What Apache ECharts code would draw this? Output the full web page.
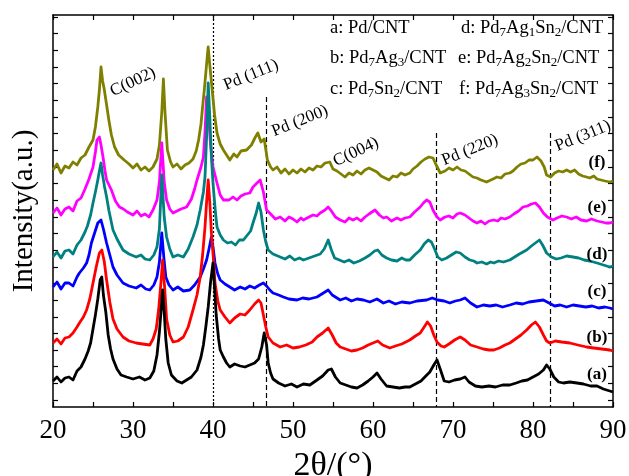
<!DOCTYPE html>
<html>
<head>
<meta charset="utf-8">
<script src="https://cdn.jsdelivr.net/npm/echarts@6/dist/echarts.min.js"></script>
<style>
  html, body { margin: 0; padding: 0; background: #fff; }
  #chart { width: 629px; height: 476px; }
</style>
</head>
<body>
<div id="chart"></div>
<script>
// 2theta (deg) vs stacked intensity (a.u.)
const curveA = [[20,26],[20.5,30],[21,25],[21.5,29],[22,30],[22.5,27],[23,36],[23.5,40],[24,48],[24.4,56],[24.7,64],[25,78],[25.3,92],[25.6,108],[25.9,127],[26.1,130],[26.3,112],[26.6,95],[26.9,72],[27.2,58],[27.5,48],[28,38],[28.5,32],[29.2,30],[30,28],[30.8,30],[31.5,27],[32.1,29],[32.6,36],[33,52],[33.3,75],[33.5,95],[33.7,117],[33.9,95],[34.1,68],[34.4,44],[34.8,32],[35.5,26],[36.1,24],[36.7,27],[37.3,30],[38,37],[38.5,50],[38.8,62],[39.1,80],[39.4,100],[39.7,125],[40,144],[40.2,118],[40.4,92],[40.7,68],[40.9,57],[41.3,50],[41.7,44],[42.1,40],[42.7,43],[43.4,41],[44,40],[44.6,42],[45.2,44],[45.7,48],[46.1,60],[46.4,74],[46.7,62],[46.9,44],[47.2,34],[47.5,28],[48.2,24],[49,21],[49.8,23],[50.5,20],[51.3,23],[52.1,22],[53,27],[53.7,31],[54.4,37],[54.8,38],[55.3,30],[55.9,24],[56.6,22],[57.3,20],[58,19],[58.7,22],[59.4,26],[60,30],[60.5,34],[61,28],[61.7,21],[62.5,20],[63.3,19],[64,20],[64.6,20],[65.3,23],[66,26],[66.6,31],[67.1,35],[67.6,42],[68,47],[68.4,38],[68.9,26],[69.5,25],[70.2,27],[70.9,28],[71.5,30],[72,25],[72.8,21],[73.6,20],[74.5,21],[75.3,20],[76.2,22],[77.1,22],[77.9,24],[78.6,26],[79.3,27],[80,30],[80.7,33],[81.3,37],[81.7,42],[82.1,38],[82.6,30],[83.2,25],[83.8,24],[84.6,25],[85.5,24],[86.3,23],[87.2,21],[88,21],[88.8,18],[89.6,16],[90,15]];
const curveB = [[20,64],[20.5,68],[21,63],[21.5,69],[22,70],[22.5,74],[23,80],[23.3,84],[23.8,90],[24.2,97],[24.6,108],[25,124],[25.4,140],[25.8,154],[26.1,157],[26.4,146],[26.7,127],[27.1,105],[27.5,88],[28,78],[28.75,70],[29.5,66],[30.4,64],[31.2,63],[32.1,62],[32.5,68],[32.9,78],[33.2,97],[33.5,125],[33.7,147],[33.95,120],[34.2,88],[34.6,72],[35,65],[35.6,66],[36.3,70],[36.9,80],[37.5,97],[38,112],[38.4,130],[38.7,152],[39,180],[39.2,205],[39.4,227],[39.6,205],[39.8,174],[40.05,148],[40.25,124],[40.6,106],[40.9,97],[41.5,90],[42.1,84],[42.7,89],[43.4,93],[44,92],[44.6,97],[45.2,103],[45.7,107],[46,104],[46.3,92],[46.6,80],[46.9,70],[47.5,64],[48.4,60],[49.2,62],[50,59],[50.8,60],[51.6,62],[52.4,65],[53,70],[53.7,74],[54.4,79],[54.9,72],[55.4,64],[55.9,60],[56.6,58],[57.3,56],[58,57],[58.7,59],[59.4,62],[60,64],[60.6,66],[61.2,62],[62.1,59],[62.8,61],[63.6,63],[64.6,67],[65.3,71],[65.9,74],[66.4,80],[66.8,85],[67.2,81],[67.6,72],[68,65],[68.5,61],[68.9,60],[69.5,63],[70.2,67],[70.9,70],[71.5,67],[72.2,62],[73,60],[73.8,58],[74.5,57],[75.1,57],[75.8,59],[76.5,62],[77.1,64],[77.8,68],[78.5,72],[79.2,77],[79.8,82],[80.3,85],[80.8,80],[81.3,72],[81.7,66],[82.1,64],[82.8,66],[83.6,65],[84.6,64],[85.6,62],[86.7,60],[87.6,59],[88.6,58],[89.6,57],[90,56]];
const curveC = [[20,120],[20.5,125],[21,118],[21.5,124],[22,124],[22.5,121],[23,130],[23.3,134],[23.8,139],[24.2,144],[24.5,152],[24.8,164],[25.2,174],[25.6,184],[26,187],[26.3,178],[26.7,164],[27.1,152],[27.5,140],[28,132],[28.75,124],[29.5,121],[30.4,119],[31,122],[31.6,118],[32.1,117],[32.6,122],[33,130],[33.3,145],[33.6,174],[33.85,150],[34.1,130],[34.5,122],[35,117],[35.6,120],[36.3,116],[37.1,117],[37.7,122],[38.4,130],[38.8,138],[39.2,147],[39.5,158],[39.8,170],[40,160],[40.25,144],[40.6,133],[40.9,127],[41.5,123],[42.1,120],[42.7,117],[43.4,120],[44,118],[44.6,121],[45.2,119],[45.8,122],[46.3,124],[46.7,121],[47.1,117],[47.5,114],[48.2,112],[48.8,110],[49.5,108],[50.5,107],[51.2,109],[52,108],[53,110],[53.8,114],[54.4,117],[54.9,112],[55.9,107],[56.6,109],[57.3,106],[58,108],[58.8,107],[59.6,105],[60.5,108],[61.3,104],[62,106],[62.8,103],[63.6,105],[64.6,104],[65.5,106],[66.7,107],[67.4,109],[68.1,107],[68.9,106],[69.6,104],[70.3,106],[70.9,107],[71.5,109],[72.2,104],[73,100],[73.8,102],[74.6,101],[75.4,102],[76.2,100],[77.1,102],[77.9,104],[78.7,103],[79.5,105],[80.4,106],[81.3,107],[82,104],[82.7,101],[83.4,102],[84.2,100],[85,102],[85.8,101],[86.6,100],[87.4,101],[88.2,99],[89,100],[89.6,99],[90,98]];
const curveD = [[20,150],[20.5,155],[21,149],[21.5,156],[22,157],[22.5,153],[23,162],[23.5,167],[24,175],[24.3,181],[24.7,192],[25,204],[25.3,215],[25.6,227],[25.8,236],[26,244],[26.2,232],[26.45,220],[26.7,210],[27,196],[27.5,177],[28,168],[28.75,157],[29.5,153],[30.4,150],[31,152],[31.5,148],[32.1,147],[32.6,152],[33,160],[33.3,178],[33.6,232],[33.9,190],[34.2,170],[34.6,158],[35,150],[35.6,152],[36.3,150],[36.9,158],[37.5,170],[38,182],[38.4,197],[38.8,215],[39,230],[39.2,270],[39.4,324],[39.6,290],[39.8,250],[40,224],[40.3,195],[40.5,180],[40.9,172],[41.3,167],[41.8,164],[42.3,165],[42.8,162],[43.3,167],[43.8,167],[44.3,172],[44.7,176],[45,184],[45.4,194],[45.7,204],[46,195],[46.3,177],[46.6,165],[46.9,157],[47.5,153],[48.4,150],[49,148],[49.6,151],[50.2,147],[50.8,149],[51.3,147],[52,149],[52.7,151],[53.4,153],[53.9,158],[54.4,167],[54.8,157],[55.2,149],[55.8,147],[56.4,145],[57,147],[57.6,144],[58.3,146],[59,149],[59.6,152],[60.2,156],[60.6,157],[61.1,152],[61.7,149],[62.3,147],[63,146],[63.6,149],[64.1,147],[64.6,147],[65.2,152],[65.9,157],[66.4,163],[66.9,167],[67.3,165],[67.7,158],[68.1,150],[68.6,147],[69.2,149],[69.8,152],[70.4,155],[70.9,154],[71.5,150],[72.1,147],[72.6,146],[73,144],[73.6,145],[74.2,143],[74.7,145],[75.1,144],[75.7,146],[76.3,145],[77.1,147],[77.7,150],[78.3,153],[79.2,157],[79.8,161],[80.3,164],[80.8,167],[81.2,162],[81.7,154],[82.3,150],[82.9,148],[83.5,149],[84.2,151],[85,150],[85.7,149],[86.4,147],[87.1,146],[88,144],[88.8,142],[89.6,140],[90,141]];
const curveE = [[20,194],[20.5,199],[21,192],[21.5,198],[22,200],[22.5,196],[23,206],[23.5,209],[24,218],[24.5,228],[25,240],[25.3,255],[25.5,267],[25.8,270],[26,262],[26.25,250],[26.5,236],[26.7,227],[27,222],[27.3,217],[27.8,206],[28.3,200],[28.8,198],[29.3,195],[30,192],[30.5,196],[31,191],[31.5,193],[32,190],[32.5,197],[33,207],[33.3,225],[33.6,264],[33.9,225],[34.2,207],[34.6,198],[35,194],[35.5,196],[36,198],[36.7,200],[37.3,208],[37.7,218],[38,227],[38.5,240],[38.8,250],[39,275],[39.2,310],[39.4,295],[39.7,262],[40,240],[40.5,224],[40.9,212],[41.3,207],[42,207],[42.5,210],[43,207],[43.5,211],[44,213],[44.6,214],[45,220],[45.5,224],[45.9,227],[46.3,215],[46.7,197],[47.2,193],[47.8,188],[48.4,190],[49,186],[49.5,190],[50,188],[50.5,185],[51,189],[51.3,187],[52,190],[52.5,192],[53,191],[53.4,194],[54,197],[54.4,200],[54.8,196],[55.3,190],[55.9,187],[56.5,185],[57,189],[57.5,187],[58,189],[58.5,186],[59,190],[59.5,193],[60.25,197],[60.8,192],[61.3,189],[61.7,190],[62.3,186],[63,189],[63.5,187],[64,189],[64.6,190],[65.2,195],[65.9,200],[66.3,204],[66.7,207],[67.1,205],[67.5,197],[68,190],[68.4,187],[69,190],[69.5,191],[70,189],[70.5,193],[70.9,194],[71.5,192],[72,189],[72.5,186],[73,184],[73.5,186],[74,183],[74.5,186],[75.1,187],[75.6,186],[76,189],[76.5,188],[77.1,190],[77.6,193],[78.2,196],[78.75,200],[79.3,201],[79.8,203],[80.3,204],[80.8,200],[81.3,194],[81.8,190],[82.5,187],[83,189],[83.6,191],[84.2,190],[84.8,188],[85.4,190],[86,187],[86.7,186],[87.3,188],[88,186],[88.6,185],[89.1,184],[89.6,184],[90,185]];
const curveF = [[20,237],[20.5,243],[21,234],[21.5,241],[22,239],[22.5,245],[23,242],[23.5,249],[24,252],[24.5,260],[25,267],[25.3,280],[25.6,300],[25.8,317],[26,340],[26.2,326],[26.4,318],[26.7,302],[27,286],[27.3,272],[27.7,260],[28.2,252],[28.9,247],[29.5,243],[30,239],[30.5,243],[31,237],[31.5,240],[32,236],[32.5,240],[33,248],[33.3,262],[33.6,295],[33.8,328],[34,295],[34.3,257],[34.7,245],[35,240],[35.5,243],[36,238],[36.5,242],[37,244],[37.5,248],[37.9,256],[38.2,267],[38.5,283],[38.7,300],[38.9,316],[39.1,334],[39.3,352],[39.4,360],[39.6,342],[39.9,317],[40.2,292],[40.5,274],[40.9,263],[41.3,257],[41.7,252],[42.1,247],[42.6,253],[43,250],[43.5,256],[44.2,257],[44.8,262],[45.3,270],[45.6,274],[46,265],[46.4,268],[46.8,247],[47.2,240],[47.5,237],[48,240],[48.5,234],[49,238],[49.5,233],[50,237],[50.5,234],[51,238],[51.5,235],[52,239],[52.5,237],[53,241],[53.5,240],[54,244],[54.6,245],[55,238],[55.5,236],[56,233],[56.5,230],[57,234],[57.5,232],[58,236],[58.5,233],[59,237],[59.5,239],[60,237],[60.5,235],[61,231],[61.5,229],[62,227],[62.5,231],[63,230],[63.5,234],[64,232],[64.6,234],[65,238],[65.5,241],[66,245],[66.5,248],[67,250],[67.5,249],[67.9,242],[68.4,234],[69,236],[69.5,239],[70,237],[70.5,240],[71,237],[71.5,236],[72,233],[72.5,230],[73,229],[73.5,227],[74.2,225],[75,228],[75.5,230],[76,229],[76.5,233],[77.1,234],[77.5,236],[78,240],[78.5,243],[79,244],[79.5,247],[80,247],[80.5,250],[81,246],[81.4,240],[81.7,232],[82.2,230],[82.7,234],[83.2,236],[83.7,235],[84.2,237],[84.7,235],[85.2,237],[85.7,233],[86.2,231],[86.7,230],[87.1,229],[87.6,231],[88,228],[88.5,227],[89,226],[89.6,225],[90,226]];

const curves = [curveA, curveB, curveC, curveD, curveE, curveF];
const curveNames = ['(a)', '(b)', '(c)', '(d)', '(e)', '(f)'];
const curveColors = ['#000000', '#ff0000', '#0000ff', '#008080', '#ff00ff', '#808000'];

// reference lines: [2theta, top of line in a.u., line type]
const peakLines = [[40, 392, 'dotted'], [46.6, 310, 'dashed'], [67.9, 274, 'dashed'], [82.1, 274, 'dashed']];
const yTickValues = [7, 23.65, 40.3, 56.95, 73.6, 90.25, 106.9, 123.55, 140.2, 156.85, 173.5, 190.15, 206.8, 223.45, 240.1, 256.75, 273.4, 290.05, 306.7, 323.35, 340, 356.65, 373.3, 389.95];

const serif = '"Liberation Serif", "Times New Roman", serif';
const chart = echarts.init(document.getElementById('chart'));

const seriesList = curves.map((data, i) => {
  let s = {
    name: curveNames[i],
    type: 'line',
    data: data,
    showSymbol: false,
    symbol: 'none',
    z: 10 - i,
    lineStyle: { color: curveColors[i], width: 2.8, join: 'round' },
    itemStyle: { color: curveColors[i] },
    animation: false
  };
  if (i === 0) {
    s.markLine = {
      silent: true,
      symbol: ['none', 'none'],
      label: { show: false },
      animation: false,
      data: peakLines.map(p => [
        { coord: [p[0], p[1]], lineStyle: { type: p[2] === 'dotted' ? [2, 2] : [5, 3], color: '#000', width: 1.2 } },
        { coord: [p[0], 0] }
      ])
    };
  }
  return s;
});

const txt = (text, x, y, rot) => ({
  type: 'text', x: x, y: y, rotation: rot * Math.PI / 180, z: 100,
  style: { text: text, font: '17px ' + serif, fill: '#000', textAlign: 'center', textVerticalAlign: 'middle' }
});
const tag = (text, y) => ({
  type: 'text', x: 597, y: y, z: 100,
  style: { text: text, font: 'bold 17px ' + serif, fill: '#000', textAlign: 'center', textVerticalAlign: 'middle' }
});

const legendRich = {
  n: { fontSize: 18.5, fontFamily: serif, verticalAlign: 'top', lineHeight: 21 },
  s: { fontSize: 13, fontFamily: serif, verticalAlign: 'bottom', lineHeight: 13 }
};
const legText = (rich, x, y) => ({
  type: 'text', x: x, y: y, z: 100,
  style: { text: rich, rich: legendRich, fill: '#000', textAlign: 'left', textVerticalAlign: 'middle', lineHeight: 26 }
});

chart.setOption({
  backgroundColor: '#fff',
  animation: false,
  grid: { left: 53, right: 16, top: 15, bottom: 69, containLabel: false, outerBoundsMode: 'none' },
  xAxis: [{
    type: 'value', min: 20, max: 90, interval: 10,
    name: '2θ/(°)', nameLocation: 'middle', nameGap: 36,
    nameTextStyle: { fontFamily: serif, fontSize: 34, color: '#000' },
    axisLine: { show: true, onZero: false, lineStyle: { color: '#000', width: 1.5 } },
    axisTick: { inside: true, length: 5, lineStyle: { color: '#000', width: 1.2 } },
    minorTick: { show: true, splitNumber: 2, length: 5, lineStyle: { color: '#000', width: 1.2 } },
    axisLabel: { fontFamily: serif, fontSize: 27, color: '#000', margin: 10 },
    splitLine: { show: false }
  }, {
    type: 'value', min: 20, max: 90, interval: 10, position: 'top',
    axisLine: { show: true, onZero: false, lineStyle: { color: '#000', width: 1.5 } },
    axisTick: { inside: true, length: 5, lineStyle: { color: '#000', width: 1.2 } },
    minorTick: { show: true, splitNumber: 2, length: 5, lineStyle: { color: '#000', width: 1.2 } },
    axisLabel: { show: false },
    splitLine: { show: false }
  }],
  yAxis: [{
    type: 'value', min: 0, max: 392,
    name: 'Intensity(a.u.)', nameLocation: 'middle', nameGap: 14,
    nameTextStyle: { fontFamily: serif, fontSize: 29, color: '#000' },
    axisLine: { show: true, onZero: false, lineStyle: { color: '#000', width: 1.5 } },
    axisTick: { inside: true, length: 5, customValues: yTickValues, lineStyle: { color: '#000', width: 1.2 } },
    axisLabel: { show: false },
    splitLine: { show: false }
  }, {
    type: 'value', min: 0, max: 392, position: 'right',
    axisLine: { show: true, onZero: false, lineStyle: { color: '#000', width: 1.5 } },
    axisTick: { inside: true, length: 5, customValues: yTickValues, lineStyle: { color: '#000', width: 1.2 } },
    axisLabel: { show: false },
    splitLine: { show: false }
  }],
  series: seriesList,
  graphic: [
    txt('C(002)', 133, 82, 25),
    txt('Pd (111)', 251, 75, 22),
    txt('Pd (200)', 300, 121, 22),
    txt('C(004)', 356, 152, 25),
    txt('Pd (220)', 470, 150, 22),
    txt('Pd (311)', 583, 136, 22),
    tag('(f)', 163),
    tag('(e)', 208),
    tag('(d)', 255),
    tag('(c)', 292),
    tag('(b)', 338),
    tag('(a)', 375),
    legText('{n|a: Pd/CNT}', 330, 29),
    legText('{n|b: Pd}{s|7}{n|Ag}{s|3}{n|/CNT}', 330, 59),
    legText('{n|c: Pd}{s|7}{n|Sn}{s|2}{n|/CNT}', 330, 90),
    legText('{n|d: Pd}{s|7}{n|Ag}{s|1}{n|Sn}{s|2}{n|/CNT}', 461, 29),
    legText('{n|e: Pd}{s|7}{n|Ag}{s|2}{n|Sn}{s|2}{n|/CNT}', 458, 59),
    legText('{n|f: Pd}{s|7}{n|Ag}{s|3}{n|Sn}{s|2}{n|/CNT}', 459, 90)
  ]
});
</script>
</body>
</html>
